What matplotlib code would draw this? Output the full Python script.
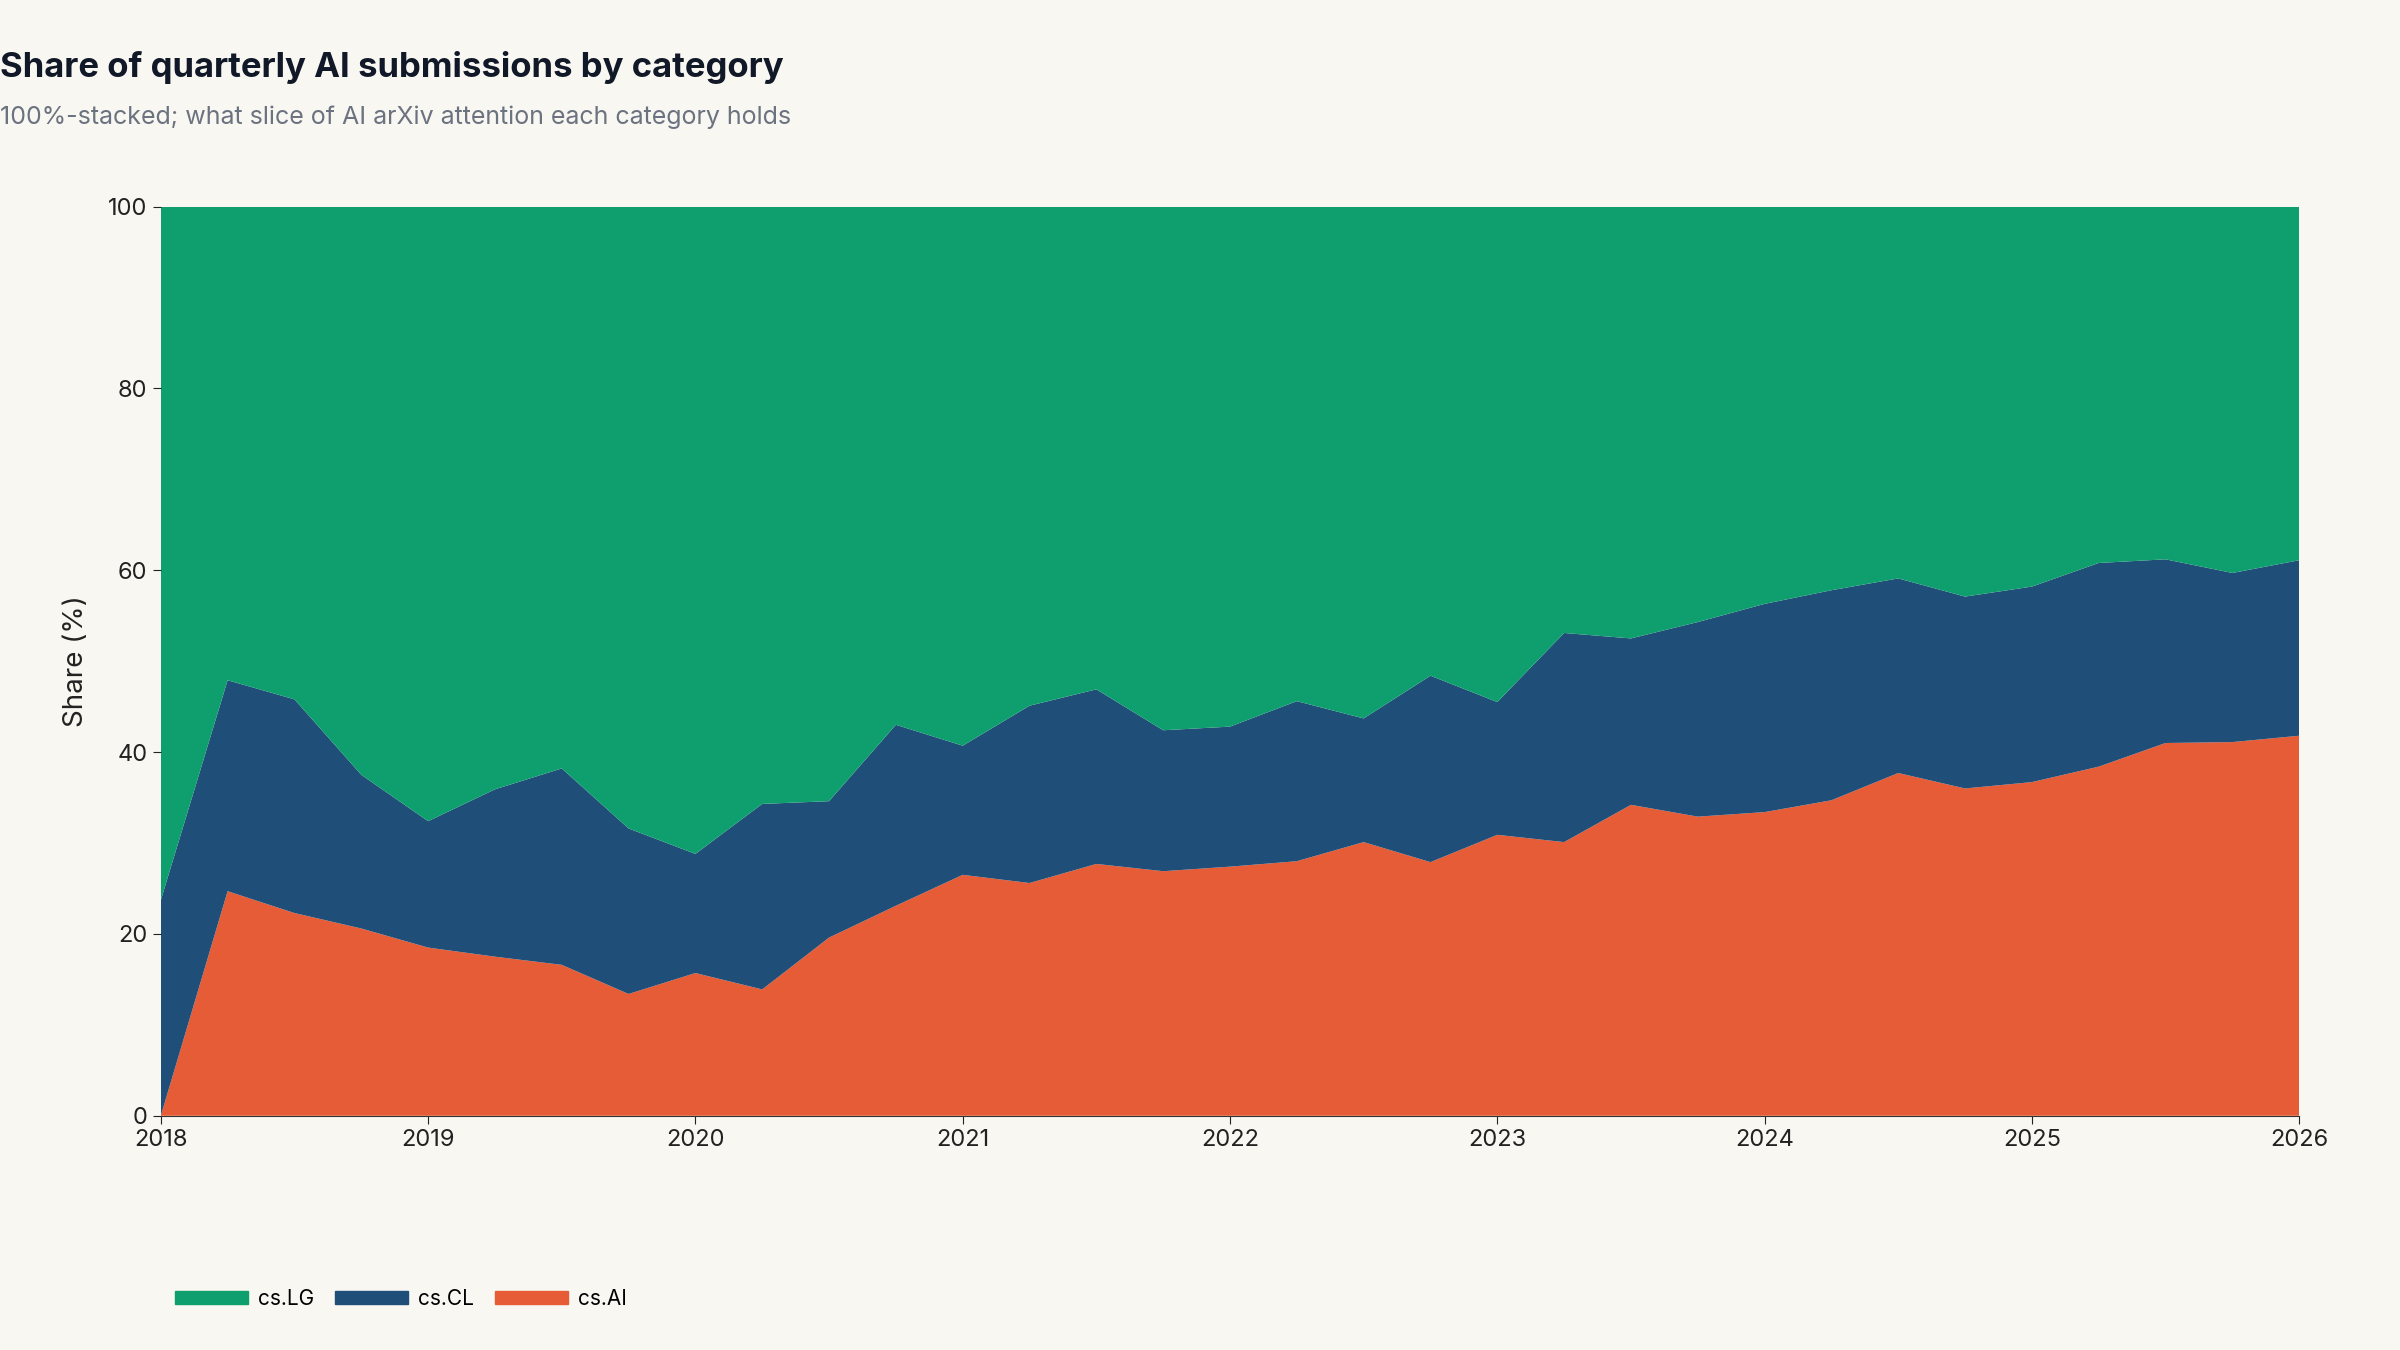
import matplotlib
matplotlib.use("Agg")
import matplotlib.pyplot as plt
import numpy as np
from matplotlib.patches import Patch

quarters = [2018 + 0.25 * i for i in range(33)]
cs_ai = [0, 24.7, 22.3, 20.6, 18.5, 17.5, 16.6, 13.4, 15.7, 13.9, 19.6, 23.1, 26.5, 25.6, 27.7, 26.9,
         27.4, 28.0, 30.1, 27.9, 30.9, 30.1, 34.2, 32.9, 33.4, 34.7, 37.7, 36.0, 36.7, 38.4, 41.0, 41.1, 41.8]
cl_top = [23.7, 47.9, 45.8, 37.5, 32.4, 35.9, 38.2, 31.6, 28.8, 34.3, 34.6, 43.0, 40.7, 45.1, 46.9, 42.4,
          42.8, 45.6, 43.7, 48.4, 45.5, 53.1, 52.5, 54.3, 56.3, 57.8, 59.1, 57.1, 58.2, 60.8, 61.2, 59.7, 61.1]
cs_cl = [t - a for t, a in zip(cl_top, cs_ai)]
cs_lg = [100 - t for t in cl_top]
year_ticks = list(range(2018, 2027))

C_AI, C_CL, C_LG = "#e65c36", "#1f4e79", "#0f9f6e"
BG = "#f9f7f1"

plt.rcParams['font.family'] = ['Inter', 'DejaVu Sans']
fig = plt.figure(figsize=(24, 13.5), dpi=100, facecolor=BG)
ax = fig.add_axes([0.067, 0.1735, 0.891, 0.6735])
ax.set_facecolor(BG)
ax.stackplot(quarters, cs_ai, cs_cl, cs_lg, colors=[C_AI, C_CL, C_LG], linewidth=0)
ax.set_xlim(2018, 2026)
ax.set_ylim(0, 100)
ax.set_xticks(year_ticks)
ax.set_xticklabels([str(y) for y in year_ticks])
ax.set_yticks([0, 20, 40, 60, 80, 100])
for s in ["top", "right", "left"]:
    ax.spines[s].set_visible(False)
ax.spines["bottom"].set_color("#333333")
ax.tick_params(axis="x", labelsize=17, colors="#222222", length=6)
ax.tick_params(axis="y", labelsize=17, colors="#222222", length=6)
ax.set_ylabel("Share (%)", fontsize=20, color="#222222", labelpad=14)

fig.text(0.0, 0.95, "Share of quarterly AI submissions by category", fontsize=25, fontweight="bold",
         color="#111827", va="center", ha="left")
fig.text(0.0, 0.913, "100%-stacked; what slice of AI arXiv attention each category holds", fontsize=18,
         color="#6b7280", va="center", ha="left")

handles = [Patch(color=C_LG, label="cs.LG"), Patch(color=C_CL, label="cs.CL"), Patch(color=C_AI, label="cs.AI")]
fig.legend(handles=handles, loc="center left", bbox_to_anchor=(0.065, 0.038), ncol=3, frameon=False,
           fontsize=15, handlelength=3.5, handleheight=0.6, columnspacing=1.0, handletextpad=0.5)

fig.savefig("out.png", dpi=100, facecolor=BG)
